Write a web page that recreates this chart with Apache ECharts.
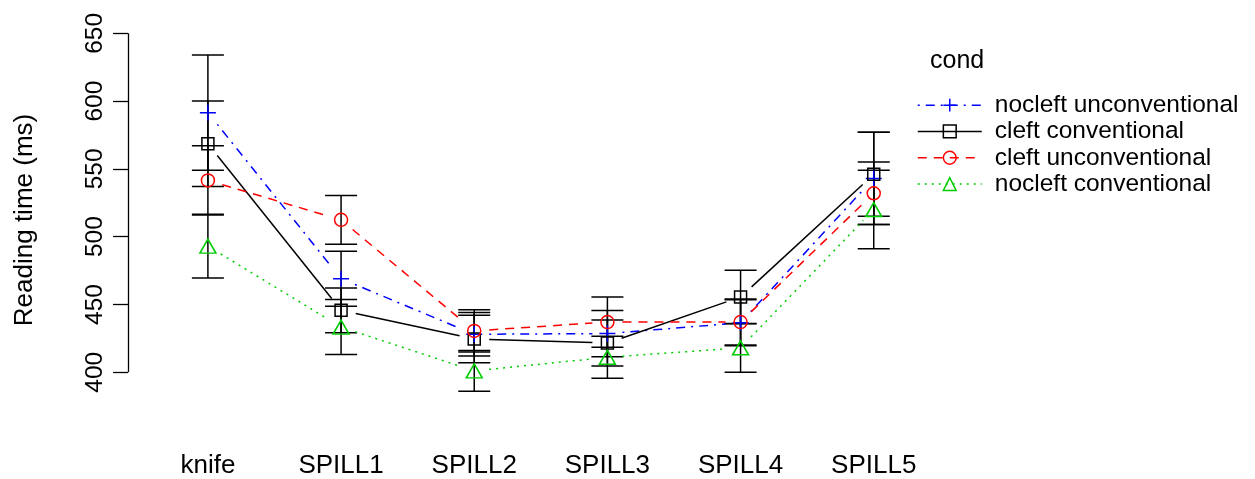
<!DOCTYPE html>
<html>
<head>
<meta charset="utf-8">
<script src="https://cdn.jsdelivr.net/npm/echarts@6/dist/echarts.min.js"></script>
<style>
html,body{margin:0;padding:0;background:#fff;}
#chart{width:1255px;height:479px;}
</style>
</head>
<body>
<div id="chart"></div>
<script>
// ---- data ----
const categories = ['knife', 'SPILL1', 'SPILL2', 'SPILL3', 'SPILL4', 'SPILL5'];
const yTicks = [400, 450, 500, 550, 600, 650];
const legendTitle = 'cond';
const yTitle = 'Reading time (ms)';

const conditions = ['nocleft unconventional', 'cleft conventional', 'cleft unconventional', 'nocleft conventional'];

const noUnconvMean = [591.5, 469.0, 428.0, 428.5, 436.5, 543.0];
const noUnconvErr  = [42.5, 20.3, 16.0, 17.0, 17.0, 34.0];

const cleftConvMean = [568.5, 445.7, 424.5, 421.5, 455.5, 546.0];
const cleftConvErr  = [31.5, 16.5, 17.5, 17.0, 19.7, 31.0];

const cleftUnconvMean = [541.5, 512.4, 430.5, 437.0, 437.0, 532.0];
const cleftUnconvErr  = [25.5, 18.0, 15.5, 18.5, 17.0, 23.0];

const noConvMean = [493.0, 433.3, 401.0, 411.0, 418.0, 520.0];
const noConvErr  = [23.5, 20.3, 15.0, 15.5, 18.0, 29.0];

// ---- styles ----
const FONT = "'Liberation Sans', Arial, Helvetica, sans-serif";
const styles = [
  { color: '#0000FF', dash: [2, 6, 9, 6], symbol: 'path://M0,6 L12,6 M6,0 L6,12', size: [16, 16] },
  { color: '#000000', dash: 'solid',       symbol: 'rect',     size: [12, 12] },
  { color: '#FF0000', dash: [9, 7],        symbol: 'circle',   size: [13, 13] },
  { color: '#00CD00', dash: [2, 5],        symbol: 'triangle', size: [16, 14] }
];
const means = [noUnconvMean, cleftConvMean, cleftUnconvMean, noConvMean];
const errs = [noUnconvErr, cleftConvErr, cleftUnconvErr, noConvErr];

const GAP = 15;
const CAP = 16;

const series = [];

// error bars
means.forEach(function (m, s) {
  series.push({
    name: '_err' + s,
    type: 'custom',
    silent: true,
    z: 2,
    encode: { x: 0, y: [1, 2] },
    data: m.map(function (v, i) { return [i + 1, v - errs[s][i], v + errs[s][i]]; }),
    renderItem: function (params, api) {
      const lo = api.coord([api.value(0), api.value(1)]);
      const hi = api.coord([api.value(0), api.value(2)]);
      const st = { stroke: '#000', lineWidth: 1.5 };
      return {
        type: 'group',
        children: [
          { type: 'line', shape: { x1: lo[0], y1: lo[1], x2: hi[0], y2: hi[1] }, style: st },
          { type: 'line', shape: { x1: lo[0] - CAP, y1: lo[1], x2: lo[0] + CAP, y2: lo[1] }, style: st },
          { type: 'line', shape: { x1: hi[0] - CAP, y1: hi[1], x2: hi[0] + CAP, y2: hi[1] }, style: st }
        ]
      };
    }
  });
});

// connecting lines with gaps around markers
means.forEach(function (m, s) {
  const segs = [];
  for (let i = 0; i < m.length - 1; i++) segs.push([i + 1, m[i], i + 2, m[i + 1]]);
  const stl = styles[s];
  series.push({
    name: '_seg' + s,
    type: 'custom',
    silent: true,
    z: 3,
    encode: { x: [0, 2], y: [1, 3] },
    data: segs,
    renderItem: function (params, api) {
      const p1 = api.coord([api.value(0), api.value(1)]);
      const p2 = api.coord([api.value(2), api.value(3)]);
      const dx = p2[0] - p1[0], dy = p2[1] - p1[1];
      const L = Math.sqrt(dx * dx + dy * dy);
      if (L <= 2 * GAP) return null;
      const ux = dx / L, uy = dy / L;
      return {
        type: 'line',
        shape: { x1: p1[0] + ux * GAP, y1: p1[1] + uy * GAP, x2: p2[0] - ux * GAP, y2: p2[1] - uy * GAP },
        style: { stroke: stl.color, lineWidth: 1.5, lineDash: stl.dash === 'solid' ? null : stl.dash }
      };
    }
  });
});

// markers
means.forEach(function (m, s) {
  const stl = styles[s];
  const ser = {
    name: conditions[s],
    type: 'line',
    z: 4,
    silent: true,
    clip: false,
    symbol: stl.symbol,
    symbolSize: stl.size,
    showAllSymbol: true,
    lineStyle: { width: 0, opacity: 0, color: stl.color },
    itemStyle: { color: 'rgba(0,0,0,0)', borderColor: stl.color, borderWidth: 1.5 },
    emphasis: { disabled: true },
    data: m.map(function (v, i) { return [i + 1, v]; })
  };
  if (s === 0) {
    ser.markLine = {
      silent: true,
      symbol: ['none', 'none'],
      label: { show: false },
      lineStyle: { color: '#000', type: 'solid', width: 1.3 },
      emphasis: { disabled: true },
      data: [[{ coord: [0.4, yTicks[0]] }, { coord: [0.4, yTicks[yTicks.length - 1]] }]]
    };
  }
  series.push(ser);
});

const chart = echarts.init(document.getElementById('chart'));
chart.setOption({
  animation: false,
  backgroundColor: '#fff',
  title: {
    text: legendTitle,
    left: 930,
    top: 49,
    padding: 0,
    textStyle: { fontFamily: FONT, fontSize: 25, fontWeight: 'normal', color: '#000' }
  },
  legend: {
    orient: 'vertical',
    left: 917,
    top: 92,
    padding: 0,
    itemGap: 0,
    itemWidth: 64,
    itemHeight: 16,
    selectedMode: false,
    textStyle: { fontFamily: FONT, fontSize: 24.5, color: '#000', lineHeight: 26.3, padding: [0, 0, 0, 8] },
    data: conditions.map(function (c, s) {
      const stl = styles[s];
      return {
        name: c,
        itemStyle: { color: 'rgba(0,0,0,0)', borderColor: stl.color, borderWidth: 1.5 },
        lineStyle: { color: stl.color, width: 1.5, opacity: 1, type: stl.dash }
      };
    })
  },
  grid: { left: 128, right: 328, top: 0, bottom: 38.9 },
  xAxis: {
    type: 'value',
    min: 0.4,
    max: 6.4,
    axisLine: { show: false },
    axisTick: { show: false },
    splitLine: { show: false },
    axisLabel: {
      customValues: [1, 2, 3, 4, 5, 6],
      formatter: function (v) { return categories[Math.round(v) - 1] || ''; },
      margin: 13,
      fontFamily: FONT,
      fontSize: 26,
      color: '#000'
    }
  },
  yAxis: {
    type: 'value',
    min: 350,
    max: 674.6,
    name: yTitle,
    nameLocation: 'middle',
    nameGap: 90,
    nameTextStyle: { fontFamily: FONT, fontSize: 26, color: '#000' },
    axisLine: { show: false },
    splitLine: { show: false },
    axisTick: {
      show: true,
      customValues: yTicks,
      length: 15,
      lineStyle: { color: '#000', width: 1.3 }
    },
    axisLabel: {
      customValues: yTicks,
      rotate: 90,
      margin: 20,
      fontFamily: FONT,
      fontSize: 24.5,
      color: '#000'
    }
  },
  series: series
});
</script>
</body>
</html>
